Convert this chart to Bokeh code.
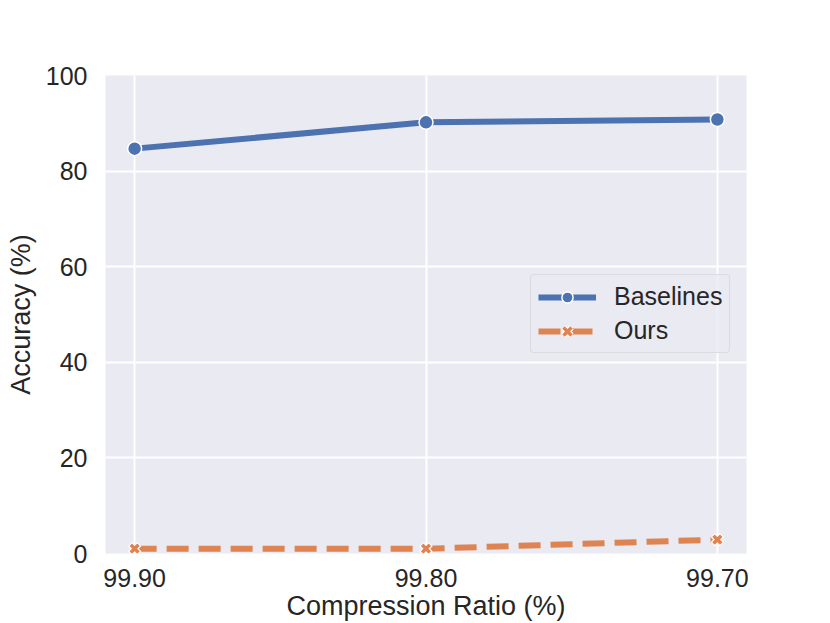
from bokeh.plotting import figure
from bokeh.models import Range1d, FixedTicker, Legend, LegendItem
from bokeh.embed import file_html
from bokeh.resources import INLINE

categories = ["99.90", "99.80", "99.70"]
baselines = [84.7, 90.2, 90.8]
ours = [1.0, 1.0, 2.9]
y_ticks = [0, 20, 40, 60, 80, 100]

xs = list(range(len(categories)))

FONT = "Liberation Sans"
BLUE = "#4C72B0"
ORANGE = "#DD8452"
TEXT = "#262626"

p = figure(width=814, height=623, output_backend="svg", toolbar_location=None,
           x_range=Range1d(-0.1, 2.1), y_range=Range1d(0, 100),
           min_border_left=105, min_border_top=75, min_border_right=68, min_border_bottom=70)

p.background_fill_color = "#EAEAF2"
p.border_fill_color = "white"
p.outline_line_color = None

for ax in (p.xaxis[0], p.yaxis[0]):
    ax.axis_line_color = None
    ax.major_tick_line_color = None
    ax.minor_tick_line_color = None
    ax.major_tick_out = 0
    ax.major_tick_in = 0
    ax.minor_tick_out = 0
    ax.minor_tick_in = 0
    ax.major_label_text_font = FONT
    ax.major_label_text_font_size = "25px"
    ax.major_label_text_color = TEXT
    ax.axis_label_text_font = FONT
    ax.axis_label_text_font_size = "27px"
    ax.axis_label_text_font_style = "normal"
    ax.axis_label_text_color = TEXT

p.xaxis.ticker = FixedTicker(ticks=xs)
p.xaxis.major_label_overrides = {i: c for i, c in zip(xs, categories)}
p.xaxis.major_label_standoff = 15
p.xaxis.axis_label = "Compression Ratio (%)"
p.xaxis.axis_label_standoff = 1
p.xaxis.axis_label_text_line_height = 0.8

p.yaxis.ticker = FixedTicker(ticks=y_ticks)
p.yaxis.major_label_standoff = 18
p.yaxis.axis_label = "Accuracy (%)"
p.yaxis.axis_label_standoff = 7

p.xgrid.grid_line_color = "white"
p.ygrid.grid_line_color = "white"
p.xgrid.grid_line_width = 2
p.ygrid.grid_line_width = 2
p.xgrid.ticker = FixedTicker(ticks=xs)
p.ygrid.ticker = FixedTicker(ticks=y_ticks)

b_line = p.line(xs, baselines, line_color=BLUE, line_width=6)
b_mark = p.scatter(xs, baselines, marker="circle", size=14, fill_color=BLUE,
                   line_color="white", line_width=1.5)

o_line = p.line(xs, ours, line_color=ORANGE, line_width=6, line_dash="22 10")
o_mark_bg = p.scatter(xs, ours, marker="x", size=13, line_color="white", line_width=6)
o_mark = p.scatter(xs, ours, marker="x", size=11, line_color=ORANGE, line_width=3.5)

legend = Legend(items=[
    LegendItem(label="Baselines", renderers=[b_line, b_mark]),
    LegendItem(label="Ours", renderers=[o_line, o_mark_bg, o_mark]),
], location=(425, 200))
legend.label_text_font = FONT
legend.label_text_font_size = "25px"
legend.label_text_color = TEXT
legend.glyph_width = 58
legend.glyph_height = 28
legend.label_standoff = 18
legend.spacing = 5
legend.padding = 7
legend.margin = 0
legend.background_fill_color = "#EAEAF2"
legend.background_fill_alpha = 0.8
legend.border_line_color = "#CCCCCC"
legend.border_line_width = 1.5
legend.border_radius = 4
p.add_layout(legend, "center")

open("out.html", "w").write(file_html(p, INLINE))
